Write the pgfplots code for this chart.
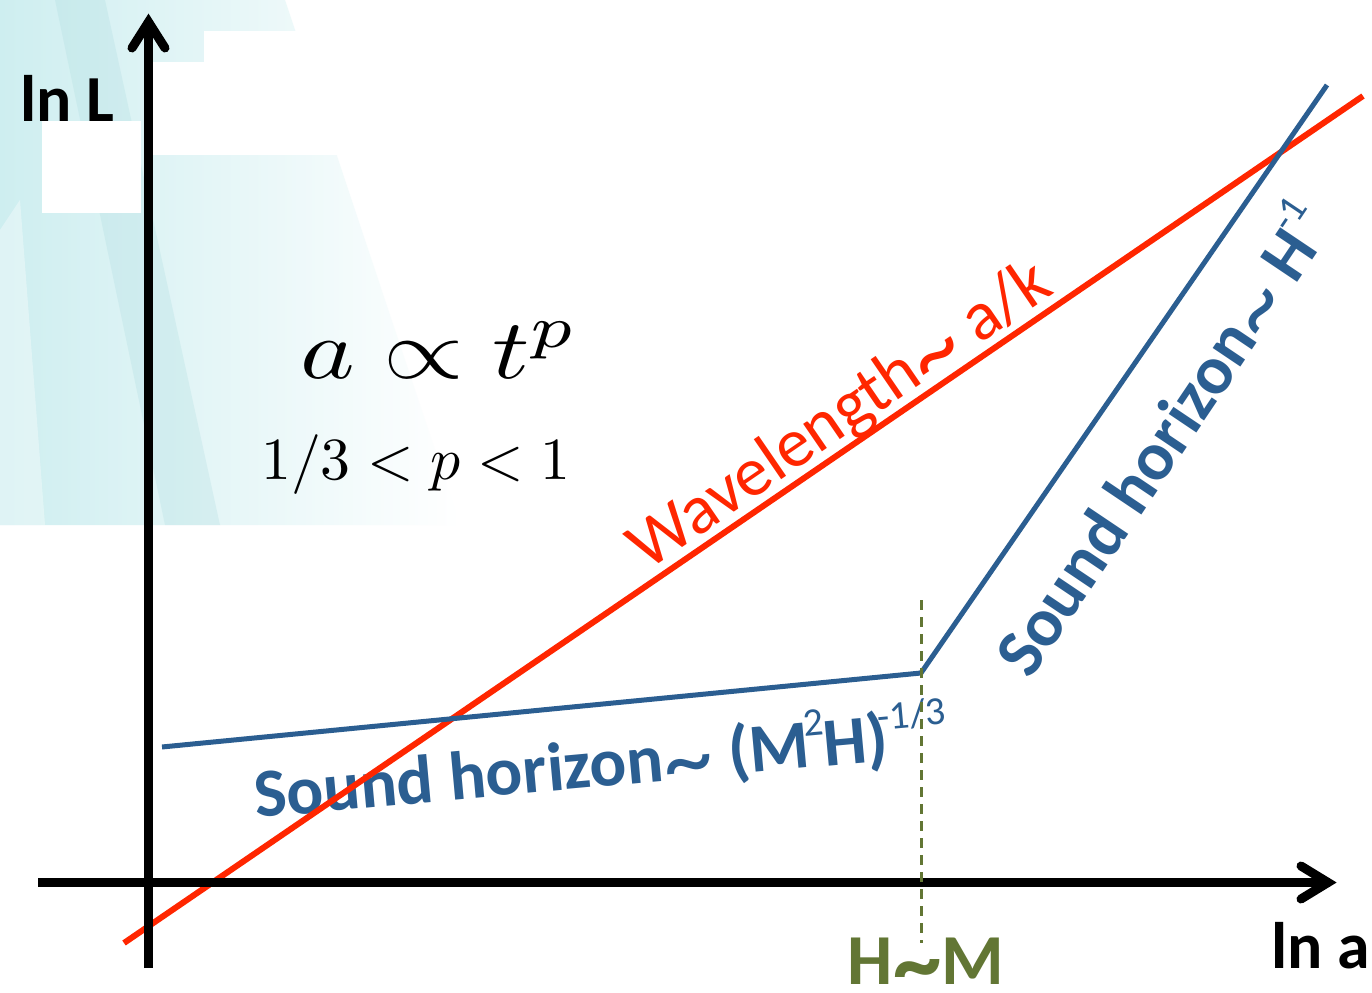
\documentclass[border=0pt]{standalone}
\usepackage[no-math]{fontspec}
\setmainfont{Carlito}
\usepackage{pgfplots}
\pgfplotsset{compat=1.18}
\definecolor{cred}{RGB}{255,38,0}
\definecolor{cblue}{RGB}{43,94,145}
\definecolor{cgreen}{RGB}{98,118,52}
\definecolor{cyanA}{RGB}{206,238,240}
\definecolor{cyanB}{RGB}{160,214,218}
\newcommand\sups[2]{\raisebox{#1}{\fontsize{40}{40}\selectfont\mdseries #2}}
\newcommand\tld{\raisebox{-0.2em}{\mdseries\scalebox{1.45}{\textasciitilde}}}
\newcommand\tldb{\raisebox{-0.16em}{\scalebox{1.35}{\textasciitilde}}}
\begin{document}
\begin{tikzpicture}
\begin{axis}[scale only axis, width=1372bp, height=993bp,
  xmin=0, xmax=1372, ymin=0, ymax=993, y dir=reverse,
  hide axis, clip=false]
% background
\fill[white] (axis cs:0,0) rectangle (axis cs:1372,993);
\shade[left color=cyanA, right color=white] (axis cs:0,0) -- (axis cs:285,0) -- (axis cs:460,525) -- (axis cs:0,525) -- cycle;
\fill[cyanB, opacity=0.22] (axis cs:55,0) -- (axis cs:105,0) -- (axis cs:220,525) -- (axis cs:165,525) -- cycle;
\fill[white, opacity=0.35] (axis cs:0,230) -- (axis cs:20,200) -- (axis cs:45,525) -- (axis cs:0,525) -- cycle;
\fill[white] (axis cs:204,31) rectangle (axis cs:400,62);
\fill[white] (axis cs:153,62) rectangle (axis cs:400,155);
\fill[white] (axis cs:42,121) rectangle (axis cs:141,213);
\coordinate (bl) at (axis cs:0,993);
\coordinate (tr) at (axis cs:1372,0);
% math
\node[anchor=base west, inner sep=0, xscale=10.4, yscale=8.5] at (axis cs:298,378) {$a\propto t^p$};
\node[anchor=base west, inner sep=0, scale=6] at (axis cs:260,479) {$1/3<p<1$};
% blue texts
\node[anchor=base west, inner sep=0, rotate=5.2, text=cblue, font=\fontsize{69}{72}\selectfont\bfseries] at (axis cs:256,818)
  {Sound horizon\tld\ (M\kern-0.06em\sups{31bp}{2}\kern-0.03em H)\kern-0.12em\sups{31bp}{-1/3}};
\node[anchor=base west, inner sep=0, rotate=56.1, text=cblue, font=\fontsize{69}{72}\selectfont\bfseries] at (axis cs:1030,681)
  {Sound horizon\tld\ H\kern-0.05em\sups{33bp}{-1}};
% red line and text
\addplot[cred, line width=6bp] coordinates {(124,943) (1363,96)};
\node[anchor=base west, inner sep=0, rotate=34.4, text=cred, font=\fontsize{70}{75}\selectfont] at (axis cs:647,572)
  {Wavelength\tld\ a/k};
% blue line
\addplot[cblue, line width=5bp] coordinates {(162,747) (921,673) (1327,85)};
% axes
\addplot[black, line width=9bp] coordinates {(38,882.5) (1330,882.5)};
\addplot[black, line width=9bp] coordinates {(148.5,968) (148.5,20)};
\draw[black, line width=9bp, line cap=round, miter limit=10] (axis cs:1301,866) -- (axis cs:1328,882.5) -- (axis cs:1301,899);
\draw[black, line width=9bp, line cap=round, miter limit=10] (axis cs:132,48) -- (axis cs:148.5,22) -- (axis cs:165,48);
% dashed marker
\addplot[cgreen, line width=3bp, dash pattern=on 10bp off 7bp] coordinates {(921,600) (921,943)};
% labels
\node[anchor=base west, inner sep=0, font=\fontsize{66}{70}\selectfont\bfseries] at (axis cs:20,122) {ln L};
\node[anchor=base west, inner sep=0, font=\fontsize{66}{70}\selectfont\bfseries] at (axis cs:1271,968) {ln a};
\node[anchor=base, inner sep=0, text=cgreen, font=\fontsize{72}{74}\selectfont\bfseries] at (axis cs:926,984) {H\tldb M};
\end{axis}
\pgfresetboundingbox
\path[use as bounding box] (bl) rectangle (tr);
\end{tikzpicture}
\end{document}
